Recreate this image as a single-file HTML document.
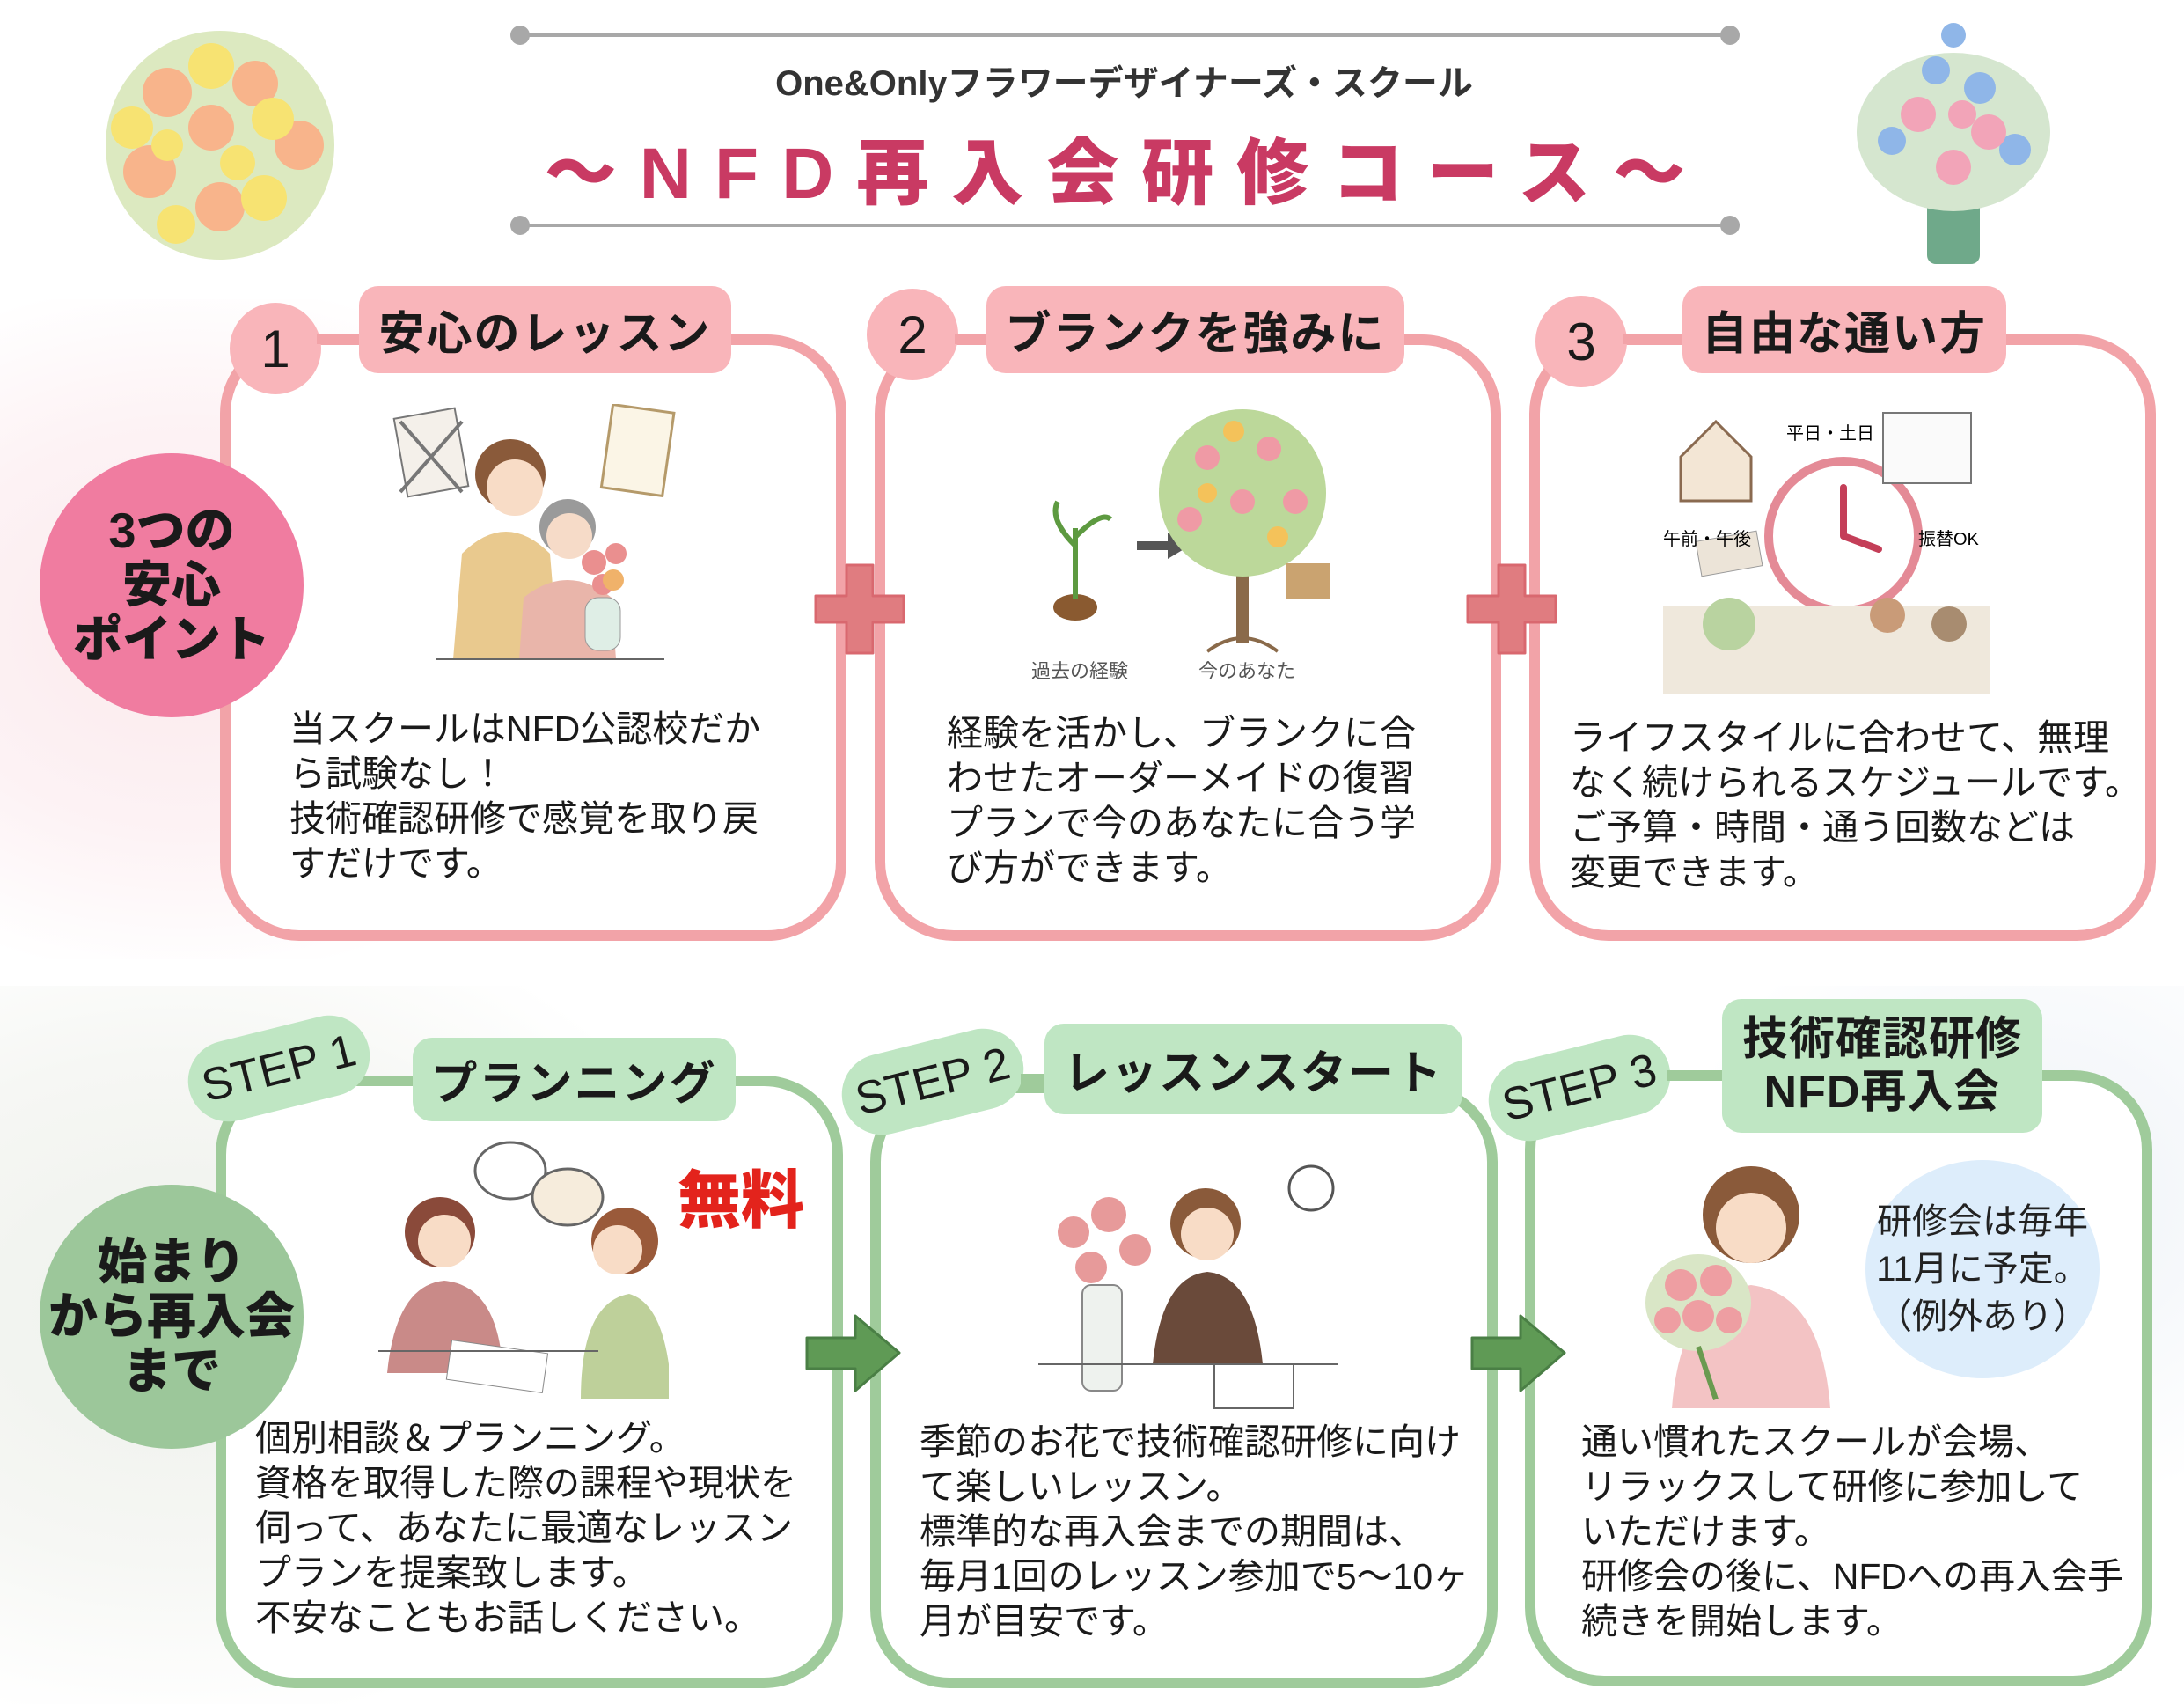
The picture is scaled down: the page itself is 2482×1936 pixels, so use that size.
<!DOCTYPE html>
<html><head><meta charset="utf-8">
<style>
*{margin:0;padding:0;box-sizing:border-box}
body{width:2482px;height:1936px;position:relative;overflow:hidden;background:#fff;font-family:"Liberation Sans","Noto Sans CJK JP",sans-serif;color:#1a1a1a}
.a{position:absolute}
.card{position:absolute;border-radius:90px;background:#fff}
.pk{border:12px solid #f2a3a8}
.gr{border:12px solid #9fcb9b}
.tab{position:absolute;border-radius:22px;display:flex;align-items:center;justify-content:center;font-weight:bold;font-size:52px;letter-spacing:2px;white-space:nowrap}
.tp{background:#f9b5ba}
.tg{background:#bfe6c3}
.num{position:absolute;border-radius:50%;background:#f9b5ba;display:flex;align-items:center;justify-content:center;font-size:60px;font-family:"Liberation Sans",sans-serif}
.txt{position:absolute;font-size:41px;line-height:51px;white-space:nowrap}
.big{position:absolute;border-radius:50%;display:flex;align-items:center;justify-content:center;text-align:center;font-weight:900;font-size:56px;line-height:62px}
.step{position:absolute;border-radius:50px;background:#bfe6c3;display:flex;align-items:center;justify-content:center;font-size:52px;transform:rotate(-14deg)}
</style></head><body>
<div class="a" style="left:0;top:340px;width:700px;height:750px;background:radial-gradient(ellipse at 30% 50%,#fbe9ec 0%,#fdf3f5 45%,rgba(255,255,255,0) 75%)"></div>
<div class="a" style="left:0;top:1120px;width:800px;height:816px;background:radial-gradient(ellipse at 25% 45%,#eef1ec 0%,#f6f7f4 45%,rgba(255,255,255,0) 75%)"></div>
<div class="a" style="left:1900px;top:1120px;width:582px;height:600px;background:radial-gradient(ellipse at 70% 40%,#eef2f7 0%,rgba(255,255,255,0) 70%)"></div>

<div class="a" style="left:589px;top:38px;width:1377px;height:4px;background:#a8a8a8"></div>
<div class="a" style="left:580px;top:29px;width:22px;height:22px;border-radius:50%;background:#a8a8a8"></div>
<div class="a" style="left:1955px;top:29px;width:22px;height:22px;border-radius:50%;background:#a8a8a8"></div>
<div class="a" style="left:589px;top:254px;width:1377px;height:4px;background:#a8a8a8"></div>
<div class="a" style="left:580px;top:245px;width:22px;height:22px;border-radius:50%;background:#a8a8a8"></div>
<div class="a" style="left:1955px;top:245px;width:22px;height:22px;border-radius:50%;background:#a8a8a8"></div>
<div class="a" style="left:589px;top:62px;width:1377px;text-align:center;font-size:40px;font-weight:bold;color:#333">One&amp;Onlyフラワーデザイナーズ・スクール</div>
<div class="a" style="left:480px;top:130px;width:1600px;text-align:center;font-size:82px;font-weight:900;color:#c93a63;letter-spacing:26px;white-space:nowrap">～NFD再入会研修コース～</div>

<svg class="a" style="left:90px;top:25px" width="320" height="280">
<g opacity="0.85">
<circle cx="160" cy="140" r="130" fill="#d7e6b6"/>
<g fill="#f7a877"><circle cx="100" cy="80" r="28"/><circle cx="200" cy="70" r="26"/><circle cx="250" cy="140" r="28"/><circle cx="80" cy="170" r="30"/><circle cx="160" cy="210" r="28"/><circle cx="150" cy="120" r="26"/></g>
<g fill="#f6df5a"><circle cx="150" cy="50" r="26"/><circle cx="60" cy="120" r="24"/><circle cx="210" cy="200" r="26"/><circle cx="110" cy="230" r="22"/><circle cx="220" cy="110" r="24"/><circle cx="100" cy="140" r="18"/><circle cx="180" cy="160" r="20"/></g>
</g></svg>
<svg class="a" style="left:2090px;top:0px" width="260" height="310">
<rect x="100" y="220" width="60" height="80" rx="10" fill="#6fa98a"/>
<ellipse cx="130" cy="150" rx="110" ry="90" fill="#d5e6cf"/>
<g fill="#8fb6e8"><circle cx="130" cy="40" r="14"/><circle cx="110" cy="80" r="16"/><circle cx="160" cy="100" r="18"/><circle cx="60" cy="160" r="16"/><circle cx="200" cy="170" r="18"/></g>
<g fill="#f2a4b8"><circle cx="90" cy="130" r="20"/><circle cx="170" cy="150" r="20"/><circle cx="130" cy="190" r="20"/><circle cx="140" cy="130" r="16"/></g>
</svg>

<div class="card pk" style="left:250px;top:380px;width:712px;height:689px"></div>
<div class="card pk" style="left:994px;top:380px;width:712px;height:689px"></div>
<div class="card pk" style="left:1738px;top:380px;width:712px;height:689px"></div>

<svg class="a" style="left:922px;top:637px" width="110" height="110"><path d="M40 5h30v35h35v30h-35v35h-30v-35h-35v-30h35z" fill="#e07c80" stroke="#d9686f" stroke-width="3" stroke-linejoin="round"/></svg>
<svg class="a" style="left:1663px;top:637px" width="110" height="110"><path d="M40 5h30v35h35v30h-35v35h-30v-35h-35v-30h35z" fill="#e07c80" stroke="#d9686f" stroke-width="3" stroke-linejoin="round"/></svg>

<div class="num" style="left:261px;top:344px;width:104px;height:104px">1</div>
<div class="num" style="left:985px;top:328px;width:104px;height:104px">2</div>
<div class="num" style="left:1745px;top:336px;width:104px;height:104px">3</div>
<div class="a" style="left:360px;top:379px;width:60px;height:12px;background:#f2a3a8"></div>
<div class="a" style="left:1085px;top:379px;width:50px;height:12px;background:#f2a3a8"></div>
<div class="a" style="left:1845px;top:379px;width:80px;height:12px;background:#f2a3a8"></div>
<div class="tab tp" style="left:408px;top:325px;width:423px;height:99px">安心のレッスン</div>
<div class="tab tp" style="left:1121px;top:325px;width:475px;height:99px">ブランクを強みに</div>
<div class="tab tp" style="left:1912px;top:325px;width:368px;height:99px">自由な通い方</div>

<div class="big" style="left:45px;top:515px;width:300px;height:300px;background:#f07ca0">3つの<br>安心<br>ポイント</div>

<svg class="a" style="left:435px;top:459px" width="345" height="335">
<rect x="20" y="10" width="70" height="90" fill="#f4f0ea" stroke="#777" stroke-width="2" transform="rotate(-10 55 55)"/>
<path d="M20 20 L90 100 M90 20 L20 100" stroke="#777" stroke-width="4"/>
<rect x="255" y="5" width="70" height="95" fill="#fbf5e6" stroke="#b59a6a" stroke-width="3" transform="rotate(8 290 50)"/>
<circle cx="145" cy="80" r="40" fill="#8a5a3a"/><circle cx="150" cy="95" r="32" fill="#f8dcc6"/>
<path d="M90 170 Q140 120 190 170 L200 290 H80 Z" fill="#e9c98e"/>
<circle cx="210" cy="140" r="32" fill="#9a9a9a"/><circle cx="212" cy="150" r="26" fill="#f6dbc8"/>
<path d="M160 220 Q210 180 260 220 L265 290 H155 Z" fill="#e9b5aa"/>
<rect x="230" y="220" width="40" height="60" rx="15" fill="#dfeee6" stroke="#999"/>
<g fill="#ea8f8f"><circle cx="240" cy="180" r="14"/><circle cx="265" cy="170" r="12"/><circle cx="250" cy="205" r="12"/></g>
<circle cx="262" cy="200" r="12" fill="#f0b26a"/>
<line x1="60" y1="290" x2="320" y2="290" stroke="#666" stroke-width="2"/>
</svg>
<svg class="a" style="left:1172px;top:450px" width="364" height="330">
<ellipse cx="50" cy="240" rx="25" ry="15" fill="#8a5a30"/>
<path d="M50 230 V150 M50 170 Q20 140 30 120 M50 160 Q80 130 90 140" stroke="#5d9a40" stroke-width="6" fill="none"/>
<path d="M120 170 H160" stroke="#555" stroke-width="10"/><path d="M155 155 L180 170 L155 185Z" fill="#555"/>
<path d="M240 280 V150" stroke="#8a6a4a" stroke-width="14"/>
<path d="M200 290 Q240 260 280 290" stroke="#8a6a4a" stroke-width="4" fill="none"/>
<ellipse cx="240" cy="110" rx="95" ry="95" fill="#bcd89a"/>
<g fill="#ef9aa5"><circle cx="200" cy="70" r="14"/><circle cx="270" cy="60" r="14"/><circle cx="300" cy="120" r="14"/><circle cx="180" cy="140" r="14"/><circle cx="240" cy="120" r="14"/></g>
<g fill="#f4c25a"><circle cx="230" cy="40" r="12"/><circle cx="280" cy="160" r="12"/><circle cx="200" cy="110" r="11"/></g>
<rect x="290" y="190" width="50" height="40" fill="#caa370"/>
<text x="0" y="320" font-size="22" font-family="Liberation Sans,Noto Sans CJK JP,sans-serif" fill="#555">過去の経験</text>
<text x="190" y="320" font-size="22" font-family="Liberation Sans,Noto Sans CJK JP,sans-serif" fill="#555">今のあなた</text>
</svg>
<svg class="a" style="left:1890px;top:459px" width="372" height="332">
<path d="M20 60 L60 20 L100 60 V110 H20 Z" fill="#f3e6d5" stroke="#8a6a50" stroke-width="3"/>
<rect x="40" y="150" width="70" height="40" fill="#ece4d8" stroke="#999" transform="rotate(-10 75 170)"/>
<circle cx="205" cy="150" r="85" fill="#fff" stroke="#e48a96" stroke-width="10"/>
<path d="M205 150 V95 M205 150 L245 165" stroke="#c43e58" stroke-width="8" stroke-linecap="round"/>
<rect x="250" y="10" width="100" height="80" fill="#fafafa" stroke="#777" stroke-width="2"/>
<text x="140" y="40" font-size="20" font-family="Liberation Sans,Noto Sans CJK JP,sans-serif">平日・土日</text>
<text x="0" y="160" font-size="20" font-family="Liberation Sans,Noto Sans CJK JP,sans-serif">午前・午後</text>
<text x="290" y="160" font-size="20" font-family="Liberation Sans,Noto Sans CJK JP,sans-serif">振替OK</text>
<rect x="0" y="230" width="372" height="100" fill="#efe8dc"/>
<circle cx="75" cy="250" r="30" fill="#b9d3a0"/><circle cx="255" cy="240" r="20" fill="#c99b78"/><circle cx="325" cy="250" r="20" fill="#a88c70"/>
</svg>

<div class="txt" style="left:329px;top:803px">当スクールはNFD公認校だか<br>ら試験なし！<br>技術確認研修で感覚を取り戻<br>すだけです。</div>
<div class="txt" style="left:1076px;top:808px">経験を活かし、ブランクに合<br>わせたオーダーメイドの復習<br>プランで今のあなたに合う学<br>び方ができます。</div>
<div class="txt" style="left:1784px;top:813px">ライフスタイルに合わせて、無理<br>なく続けられるスケジュールです。<br>ご予算・時間・通う回数などは<br>変更できます。</div>

<div class="card gr" style="left:245px;top:1222px;width:713px;height:696px"></div>
<div class="card gr" style="left:989px;top:1230px;width:713px;height:688px"></div>
<div class="card gr" style="left:1733px;top:1216px;width:713px;height:700px"></div>

<div class="step" style="left:212px;top:1168px;width:210px;height:92px">STEP 1</div>
<div class="step" style="left:955px;top:1183px;width:210px;height:92px">STEP 2</div>
<div class="step" style="left:1690px;top:1190px;width:210px;height:92px">STEP 3</div>
<div class="a" style="left:415px;top:1222px;width:60px;height:12px;background:#9fcb9b"></div>
<div class="a" style="left:1160px;top:1220px;width:40px;height:12px;background:#9fcb9b"></div>
<div class="a" style="left:1895px;top:1216px;width:70px;height:12px;background:#9fcb9b"></div>
<div class="tab tg" style="left:469px;top:1179px;width:367px;height:95px">プランニング</div>
<div class="tab tg" style="left:1187px;top:1163px;width:475px;height:103px">レッスンスタート</div>
<div class="tab tg" style="left:1957px;top:1135px;width:364px;height:152px;font-size:52px;line-height:60px;text-align:center;letter-spacing:1px">技術確認研修<br>NFD再入会</div>

<div class="big" style="left:45px;top:1346px;width:300px;height:300px;background:#9cc79a">始まり<br>から再入会<br>まで</div>

<svg class="a" style="left:912px;top:1490px" width="115" height="95"><path d="M5 30h55V5l50 42-50 43V65H5z" fill="#5f9a55" stroke="#4a7f45" stroke-width="3" stroke-linejoin="round"/></svg>
<svg class="a" style="left:1668px;top:1490px" width="115" height="95"><path d="M5 30h55V5l50 42-50 43V65H5z" fill="#5f9a55" stroke="#4a7f45" stroke-width="3" stroke-linejoin="round"/></svg>

<div class="a" style="left:770px;top:1305px;font-size:72px;font-weight:900;color:#e3231c">無料</div>

<svg class="a" style="left:430px;top:1290px" width="340" height="300">
<ellipse cx="150" cy="40" rx="40" ry="32" fill="#fff" stroke="#666" stroke-width="3"/>
<ellipse cx="215" cy="70" rx="40" ry="32" fill="#f6ecdc" stroke="#666" stroke-width="3"/>
<circle cx="70" cy="110" r="40" fill="#8a4a3a"/><circle cx="75" cy="120" r="30" fill="#f8dcc6"/>
<path d="M10 270 Q20 170 75 165 Q130 170 140 250 V270Z" fill="#c98a88"/>
<circle cx="280" cy="120" r="38" fill="#9a5a3a"/><circle cx="272" cy="130" r="28" fill="#f8dcc6"/>
<path d="M230 300 Q230 190 285 180 Q320 190 330 260 V300Z" fill="#bed09a"/>
<rect x="80" y="240" width="110" height="45" fill="#fff" stroke="#888" transform="rotate(8 135 262)"/>
<line x1="0" y1="245" x2="250" y2="245" stroke="#666" stroke-width="2"/>
</svg>
<svg class="a" style="left:1180px;top:1320px" width="340" height="290">
<rect x="50" y="140" width="45" height="120" rx="10" fill="#eef2ee" stroke="#888" stroke-width="2"/>
<g fill="#e79a9a"><circle cx="40" cy="80" r="18"/><circle cx="80" cy="60" r="20"/><circle cx="110" cy="100" r="18"/><circle cx="60" cy="120" r="18"/></g>
<circle cx="190" cy="70" r="40" fill="#8a5a3a"/><circle cx="192" cy="82" r="30" fill="#f8dcc6"/>
<path d="M130 230 Q140 130 192 125 Q245 130 255 230Z" fill="#6a4a3a"/>
<circle cx="310" cy="30" r="25" fill="#fff" stroke="#555" stroke-width="3"/>
<path d="M200 230 h90 v50 h-90z" fill="#fff" stroke="#666" stroke-width="2"/>
<line x1="0" y1="230" x2="340" y2="230" stroke="#666" stroke-width="2"/>
</svg>
<svg class="a" style="left:1840px;top:1310px" width="260" height="290">
<circle cx="150" cy="70" r="55" fill="#8a5a3a"/><circle cx="150" cy="85" r="40" fill="#f8dcc6"/>
<path d="M60 290 Q70 160 150 150 Q230 160 240 290Z" fill="#f3c3c4"/>
<ellipse cx="90" cy="170" rx="60" ry="55" fill="#d9e6c6"/>
<g fill="#ee9ea2"><circle cx="70" cy="150" r="18"/><circle cx="110" cy="145" r="18"/><circle cx="90" cy="185" r="18"/><circle cx="55" cy="190" r="15"/><circle cx="125" cy="190" r="15"/></g>
<path d="M90 220 L110 280" stroke="#6a9a50" stroke-width="6"/>
</svg>
<div class="big" style="left:2120px;top:1318px;width:266px;height:248px;background:#ddedfb;font-weight:normal;font-size:40px;line-height:54px;color:#222">研修会は毎年<br>11月に予定。<br>（例外あり）</div>

<div class="txt" style="left:290px;top:1609px">個別相談＆プランニング。<br>資格を取得した際の課程や現状を<br>伺って、あなたに最適なレッスン<br>プランを提案致します。<br>不安なこともお話しください。</div>
<div class="txt" style="left:1045px;top:1613px">季節のお花で技術確認研修に向け<br>て楽しいレッスン。<br>標準的な再入会までの期間は、<br>毎月1回のレッスン参加で5～10ヶ<br>月が目安です。</div>
<div class="txt" style="left:1797px;top:1613px">通い慣れたスクールが会場、<br>リラックスして研修に参加して<br>いただけます。<br>研修会の後に、NFDへの再入会手<br>続きを開始します。</div>
</body></html>
